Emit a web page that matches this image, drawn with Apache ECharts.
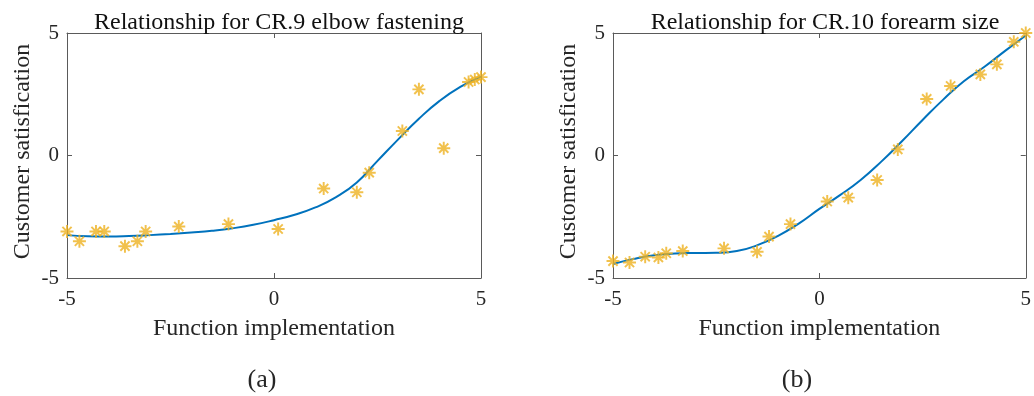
<!DOCTYPE html>
<html>
<head>
<meta charset="utf-8">
<script src="https://cdn.jsdelivr.net/npm/echarts@6/dist/echarts.min.js"></script>
<style>
html,body{margin:0;padding:0;background:#fff;}
#chart{width:1034px;height:396px;}
</style>
</head>
<body>
<div id="chart"></div>
<script>
// ---- data ----
const titles = ['Relationship for CR.9 elbow fastening', 'Relationship for CR.10 forearm size'];
const panelLabels = ['(a)', '(b)'];
const xName = 'Function implementation';
const yName = 'Customer satisfication';
const axisMin = -5, axisMax = 5, axisStep = 5;

// (a) observed points
const xA = [-5.0, -4.7, -4.3, -4.1, -3.6, -3.3, -3.1, -2.3, -1.1, 0.1, 1.2, 2.0, 2.3, 3.1, 3.5, 4.1, 4.7, 4.85, 5.0];
const yA = [-3.1, -3.5, -3.1, -3.1, -3.7, -3.5, -3.1, -2.9, -2.8, -3.0, -1.35, -1.5, -0.7, 1.0, 2.7, 0.3, 3.0, 3.1, 3.2];
// (b) observed points
const xB = [-5.0, -4.6, -4.22, -3.9, -3.71, -3.31, -2.31, -1.51, -1.22, -0.7, 0.19, 0.7, 1.4, 1.9, 2.6, 3.18, 3.9, 4.3, 4.71, 5.0];
const yB = [-4.31, -4.37, -4.13, -4.16, -3.99, -3.9, -3.79, -3.93, -3.31, -2.8, -1.88, -1.72, -1.0, 0.25, 2.31, 2.84, 3.31, 3.72, 4.64, 5.0];

// fitted curves
const curveX = [-5, -4.5, -4, -3.5, -3, -2.5, -2, -1.5, -1, -0.5, 0, 0.5, 1, 1.5, 2, 2.5, 3, 3.5, 4, 4.5, 5];
const curveA = [-3.25, -3.30, -3.31, -3.29, -3.25, -3.20, -3.14, -3.07, -2.97, -2.83, -2.64, -2.42, -2.12, -1.70, -1.10, -0.22, 0.66, 1.50, 2.23, 2.80, 3.22];
const curveB = [-4.43, -4.22, -4.07, -4.00, -3.98, -3.97, -3.90, -3.66, -3.28, -2.78, -2.18, -1.62, -1.00, -0.25, 0.58, 1.45, 2.28, 3.03, 3.62, 4.27, 4.90];

// ---- style ----
const FONT = '"Liberation Serif", "Times New Roman", serif';
const TXT = '#262626';
const AXC = '#5a5a5a';
const LINEC = '#0072BD';
const MARKC = '#EDB120';
const STAR = 'path://M8.5 0L11.5 0L11.5 20L8.5 20Z M0 8.5L20 8.5L20 11.5L0 11.5Z M4.0 1.87L18.13 16.0L16.0 18.13L1.87 4.0Z M18.13 4.0L4.0 18.13L1.87 16.0L16.0 1.87Z';

const grids = [
  {left: 67, top: 33, width: 414, height: 245},
  {left: 613, top: 33, width: 414, height: 245}
];

const pairs = (xs, ys) => xs.map((x, i) => [x, ys[i]]);

const xAxes = [], yAxes = [], series = [], titleList = [], graphics = [];
grids.forEach((g, i) => {
  const base = {
    type: 'value', min: axisMin, max: axisMax, interval: axisStep, gridIndex: i,
    splitLine: {show: false},
    axisLine: {show: true, onZero: false, lineStyle: {color: AXC, width: 1}},
    axisTick: {show: true, inside: true, length: 5, lineStyle: {color: AXC}},
  };
  xAxes.push(Object.assign({}, base, {
    position: 'bottom',
    axisLabel: {color: TXT, fontFamily: FONT, fontSize: 21, margin: 11},
    name: xName, nameLocation: 'middle', nameGap: 39,
    nameTextStyle: {color: TXT, fontFamily: FONT, fontSize: 24}
  }));
  xAxes.push(Object.assign({}, base, {position: 'top', axisLabel: {show: false}}));
  yAxes.push(Object.assign({}, base, {
    position: 'left',
    axisLabel: {color: TXT, fontFamily: FONT, fontSize: 21, margin: 8},
    name: yName, nameLocation: 'middle', nameGap: 32, nameRotate: 90,
    nameTextStyle: {color: TXT, fontFamily: FONT, fontSize: 24, padding: [0, 0, 0, 8]}
  }));
  yAxes.push(Object.assign({}, base, {position: 'right', axisLabel: {show: false}}));

  const xs = i === 0 ? xA : xB, ys = i === 0 ? yA : yB, cy = i === 0 ? curveA : curveB;
  series.push({
    type: 'line', xAxisIndex: 2 * i, yAxisIndex: 2 * i,
    data: pairs(curveX, cy), smooth: 0.5, showSymbol: false, symbol: 'none',
    lineStyle: {color: LINEC, width: 2}, z: 2, animation: false
  });
  series.push({
    type: 'scatter', xAxisIndex: 2 * i, yAxisIndex: 2 * i,
    data: pairs(xs, ys), symbol: STAR, symbolSize: 13, clip: false,
    itemStyle: {color: MARKC}, z: 3, animation: false
  });
  titleList.push({
    text: titles[i], left: g.left + g.width / 2, top: 6, textAlign: 'center',
    textStyle: {color: '#111', fontFamily: FONT, fontSize: 24, fontWeight: 'normal'}
  });
  graphics.push({
    type: 'text',
    x: (i === 0 ? 262 : 797), y: 380,
    style: {text: panelLabels[i], fill: TXT, font: '26px ' + FONT, textAlign: 'center', textVerticalAlign: 'middle'}
  });
});

const chart = echarts.init(document.getElementById('chart'), null, {renderer: 'canvas'});
chart.setOption({
  backgroundColor: '#fff',
  animation: false,
  title: titleList,
  grid: grids,
  xAxis: xAxes,
  yAxis: yAxes,
  series: series,
  graphic: graphics
});
</script>
</body>
</html>
